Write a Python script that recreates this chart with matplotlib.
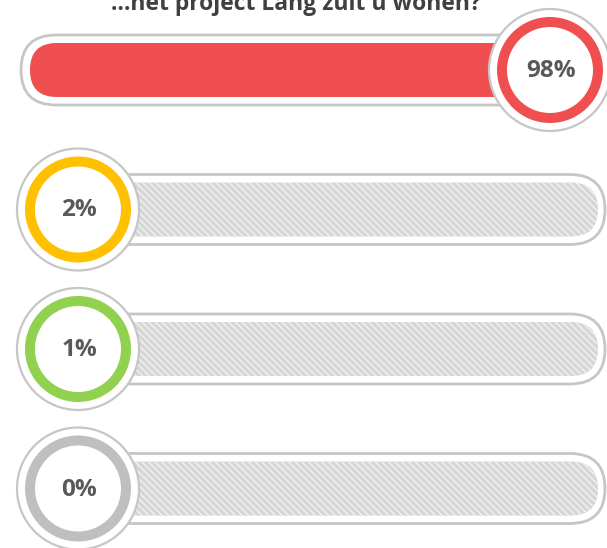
import numpy as np
import matplotlib.pyplot as plt
from matplotlib.patches import FancyBboxPatch, Circle, Wedge

plt.rcParams['font.family'] = ['Open Sans', 'DejaVu Sans']
plt.rcParams['hatch.linewidth'] = 1.0

title = '…het project Lang zult u wonen?'
labels = ['98%', '2%', '1%', '0%']
values = [98, 2, 1, 0]
colors = ['#f04f4f', '#ffc000', '#92d050', '#bfbfbf']

W, H = 607, 548
fig = plt.figure(figsize=(W / 100, H / 100), dpi=100)
ax = fig.add_axes([0, 0, 1, 1])
ax.set_xlim(0, W)
ax.set_ylim(H, 0)
ax.set_aspect('equal')
ax.axis('off')

track_left, track_right = 21, 605
inner_left, inner_right = 30, 598
row_top, row_step = 70, 139.5

for i, (lab, val, col) in enumerate(zip(labels, values, colors)):
    y = row_top + i * row_step

    # outer track with gray border
    ax.add_patch(FancyBboxPatch((track_left, y - 35), track_right - track_left, 70,
                                boxstyle='round,pad=0,rounding_size=35',
                                fc='white', ec='#c6c6c6', lw=2, zorder=1))
    # hatched empty part
    ax.add_patch(FancyBboxPatch((inner_left, y - 27), inner_right - inner_left, 54,
                                boxstyle='round,pad=0,rounding_size=27',
                                fc='#d6d6d6', ec='#f2f2f2', lw=0, hatch='\\\\\\\\\\', zorder=2))

    fill_end = inner_left + val / 100 * (inner_right - inner_left)
    cx = np.clip(fill_end, 78, 550)
    # filled part
    if val > 0:
        ax.add_patch(FancyBboxPatch((inner_left, y - 27), cx - inner_left, 54,
                                    boxstyle='round,pad=0,rounding_size=27',
                                    fc=col, ec='none', zorder=3))

    # badge
    ax.add_patch(Circle((cx, y), 61, fc='white', ec='#c6c6c6', lw=1.6, zorder=4))
    ax.add_patch(Wedge((cx, y), 53, 0, 360, width=10, fc=col, ec='none', zorder=5))
    ax.text(cx + 1, y + 1, lab, ha='center', va='center', fontsize=17.5,
            fontweight='bold', color='#595959', zorder=6)

ax.text(296, 10, title, ha='center', va='baseline', fontsize=16.5,
        fontweight='bold', color='#404040', zorder=6)

plt.savefig('out.png', dpi=100)
